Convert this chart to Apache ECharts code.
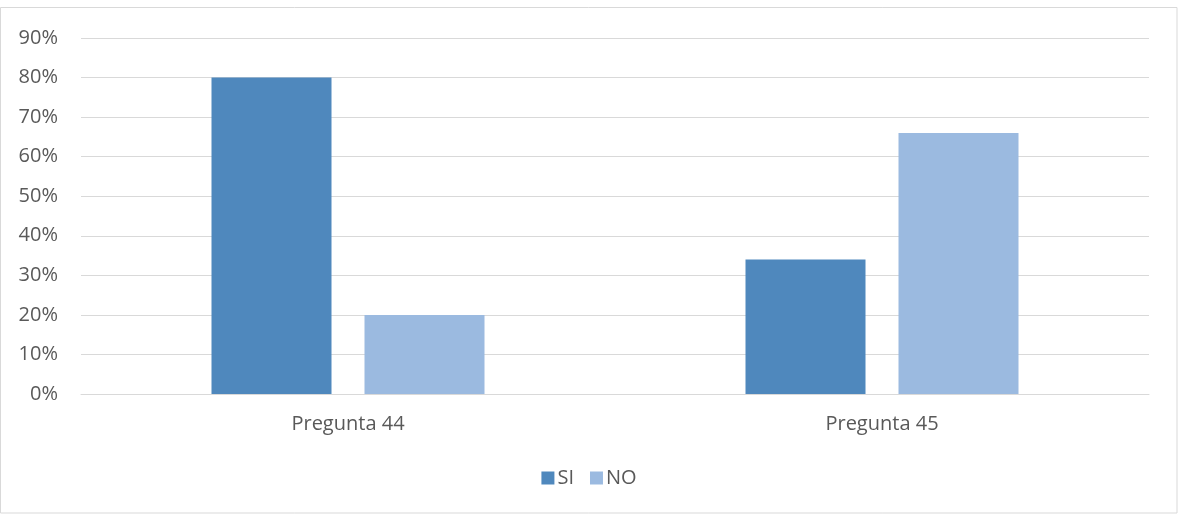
<!DOCTYPE html>
<html>
<head>
<meta charset="utf-8">
<script src="https://cdn.jsdelivr.net/npm/echarts@6/dist/echarts.min.js"></script>
<style>
  html, body { margin: 0; padding: 0; background: #ffffff; }
  #chart { width: 1178px; height: 514px; }
</style>
</head>
<body>
<div id="chart"></div>
<script>
// Survey answers per question, in percent
const categories = ['Pregunta 44', 'Pregunta 45'];
const siValues = [80, 34];
const noValues = [20, 66];
const seriesNames = ['SI', 'NO'];

const textColor = '#595959';
const gridColor = '#d9d9d9';
const font = '"Open Sans", "Noto Sans", sans-serif';

const chart = echarts.init(document.getElementById('chart'), null, { renderer: 'canvas' });

chart.setOption({
  animation: false,
  backgroundColor: '#ffffff',
  graphic: [{
    type: 'rect',
    shape: { x: 0.5, y: 7.5, width: 1176.5, height: 505.5 },
    style: { fill: 'none', stroke: gridColor, lineWidth: 1 },
    silent: true
  }],
  grid: { left: 81, right: 29, top: 38, bottom: 120, containLabel: false },
  legend: {
    data: seriesNames,
    top: 463,
    left: 'center',
    itemWidth: 13,
    itemHeight: 13,
    itemGap: 16,
    icon: 'rect',
    textStyle: { color: textColor, fontSize: 20, fontFamily: font, padding: [0, 0, 0, -2] }
  },
  xAxis: {
    type: 'category',
    data: categories,
    axisLine: { show: true, lineStyle: { color: gridColor, width: 1 } },
    axisTick: { show: false },
    axisLabel: { color: textColor, fontSize: 20, fontFamily: font, margin: 20 }
  },
  yAxis: {
    type: 'value',
    min: 0,
    max: 90,
    interval: 10,
    axisLine: { show: false },
    axisTick: { show: false },
    splitLine: { lineStyle: { color: gridColor, width: 1 } },
    axisLabel: {
      color: textColor, fontSize: 20, fontFamily: font, margin: 23,
      formatter: v => v + '%'
    }
  },
  series: [
    {
      name: seriesNames[0],
      type: 'bar',
      data: siValues,
      barWidth: 120,
      barGap: '27.5%',
      itemStyle: { color: '#4f88bd' }
    },
    {
      name: seriesNames[1],
      type: 'bar',
      data: noValues,
      barWidth: 120,
      barGap: '27.5%',
      itemStyle: { color: '#9bbae0' }
    }
  ]
});
</script>
</body>
</html>
